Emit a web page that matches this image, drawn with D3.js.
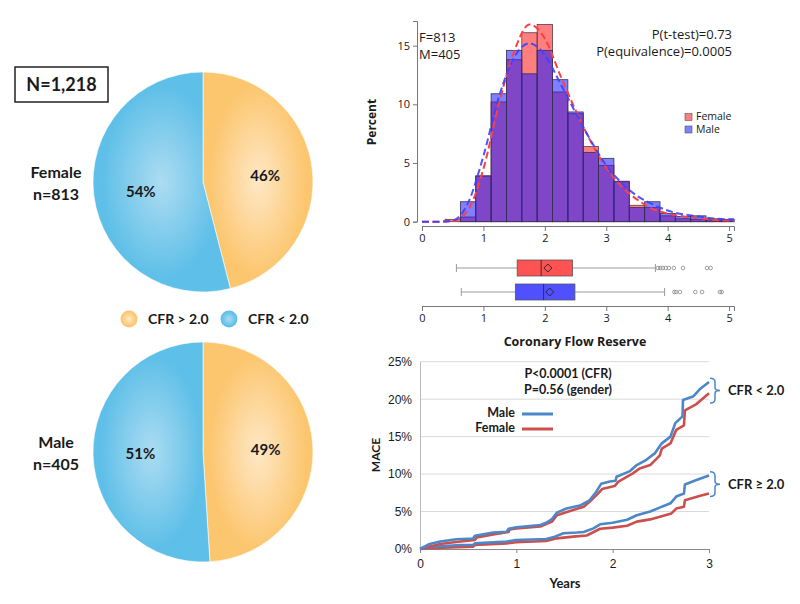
<!DOCTYPE html>
<html>
<head>
<meta charset="utf-8">
<script src="https://cdn.jsdelivr.net/npm/d3@7"></script>
<style>
  body { margin: 0; background: #fff; }
  svg text { fill: #1a1a1a; }
</style>
</head>
<body>
<div id="chart"></div>
<script>
// pie data
var pieGroups = ["Female", "Male"];
var pieCounts = ["n=813", "n=405"];
var pieHigh = [46, 49];   // CFR > 2.0
var pieLow = [54, 51];    // CFR < 2.0

// histogram data (percent per 0.25 bin)
var binCenters = [0.5, 0.75, 1.0, 1.25, 1.5, 1.75, 2.0, 2.25, 2.5, 2.75, 3.0, 3.25, 3.5, 3.75, 4.0, 4.25, 4.5, 4.75, 5.0];
var femalePct = [0.2, 0.4, 3.9, 10.2, 13.8, 16.1, 16.8, 11.05, 9.2, 6.4, 4.8, 3.4, 1.4, 1.2, 0.5, 0.25, 0.2, 0.25, 0.2];
var malePct   = [0.0, 1.7, 3.9, 10.9, 14.6, 12.6, 14.6, 12.1, 9.35, 5.9, 5.4, 3.45, 1.2, 1.7, 0.7, 0.45, 0.5, 0.15, 0.2];

// density curves
var densX = [0, 0.25, 0.5, 0.75, 1.0, 1.25, 1.5, 1.75, 2.0, 2.25, 2.5, 2.75, 3.0, 3.25, 3.5, 3.75, 4.0, 4.5, 5.0, 5.08];
var femaleDens = [0, 0, 0.05, 1.0, 4.5, 10.0, 14.5, 16.8, 15.6, 12.5, 9.5, 6.8, 4.6, 3.0, 1.9, 1.1, 0.7, 0.3, 0.1, 0.1];
var maleDens   = [0, 0, 0.1, 1.6, 5.6, 10.6, 14.0, 15.2, 14.2, 11.8, 9.3, 6.9, 4.8, 3.3, 2.2, 1.5, 0.95, 0.45, 0.2, 0.2];

// box plots: [whiskerLo, q1, median, q3, whiskerHi], mean, outliers
var boxNames = ["Female", "Male"];
var boxStats = [[0.56, 1.55, 1.94, 2.45, 3.80], [0.64, 1.52, 1.98, 2.49, 3.95]];
var boxMeans = [2.05, 2.08];
var boxOutliers = [[3.84, 3.88, 3.92, 3.97, 4.02, 4.10, 4.25, 4.64, 4.70], [4.11, 4.14, 4.20, 4.45, 4.56, 4.85, 4.88]];

// Kaplan-Meier MACE curves (years, %)
var maleLowT = [0, 0.1, 0.21, 0.38, 0.55, 0.57, 0.76, 0.9, 0.92, 1.0, 1.25, 1.31, 1.37, 1.42, 1.52, 1.66, 1.76, 1.83, 1.88, 1.97, 2.03, 2.04, 2.18, 2.25, 2.35, 2.44, 2.51, 2.6, 2.65, 2.725, 2.73, 2.84, 2.91, 3.0];
var maleLowY = [0, 0.67, 1.0, 1.3, 1.4, 1.75, 2.2, 2.3, 2.7, 2.9, 3.2, 3.5, 4.0, 4.85, 5.4, 5.8, 6.5, 7.65, 8.7, 9.0, 9.1, 9.65, 10.4, 11.2, 11.9, 12.8, 14.1, 15.0, 16.8, 17.7, 19.9, 20.4, 21.4, 22.3];
var femaleLowT = [0, 0.21, 0.42, 0.57, 0.59, 0.76, 0.92, 0.93, 1.0, 1.25, 1.37, 1.42, 1.59, 1.7, 1.76, 1.84, 1.89, 2.02, 2.06, 2.21, 2.28, 2.39, 2.49, 2.51, 2.6, 2.66, 2.74, 2.75, 2.87, 3.0];
var femaleLowY = [0, 0.67, 1.0, 1.2, 1.55, 1.95, 2.27, 2.6, 2.75, 3.0, 3.65, 4.5, 5.2, 5.65, 6.3, 7.3, 8.0, 8.4, 9.0, 10.1, 10.75, 11.2, 12.5, 13.4, 14.1, 15.9, 16.5, 18.5, 19.35, 20.8];
var maleHighT = [0, 0.14, 0.42, 0.55, 0.57, 0.9, 1.0, 1.31, 1.4, 1.49, 1.63, 1.7, 1.8, 1.87, 2.0, 2.15, 2.25, 2.39, 2.51, 2.6, 2.66, 2.74, 2.75, 2.87, 3.0];
var maleHighY = [0, 0.3, 0.53, 0.53, 0.75, 1.0, 1.2, 1.33, 1.65, 2.1, 2.2, 2.27, 2.75, 3.3, 3.5, 3.9, 4.5, 5.0, 5.65, 6.1, 7.0, 7.4, 8.6, 9.2, 9.8];
var femaleHighT = [0, 0.24, 0.55, 0.57, 0.9, 1.0, 1.31, 1.42, 1.59, 1.73, 1.87, 2.0, 2.15, 2.25, 2.39, 2.49, 2.61, 2.66, 2.74, 2.75, 2.91, 3.0];
var femaleHighY = [0, 0.18, 0.3, 0.53, 0.75, 0.9, 1.07, 1.42, 1.65, 1.8, 2.7, 2.85, 3.1, 3.65, 3.95, 4.3, 4.75, 5.4, 5.65, 6.5, 7.1, 7.4];

var histTicks = [0, 1, 2, 3, 4, 5];
var histYTicks = [0, 5, 10, 15];
var kmXTicks = [0, 1, 2, 3];
var kmYTicks = [0, 5, 10, 15, 20, 25];

var svg = d3.select("#chart").append("svg")
  .attr("width", 800).attr("height", 604)
  .style("font-family", "Lato, 'Open Sans', sans-serif");

var defs = svg.append("defs");

// ---------- pies ----------
var orange = { inner: "#fee8c6", outer: "#fcc66f" };
var blue = { inner: "#acdcf1", outer: "#5ebfe8" };
function radial(id, c) {
  var g = defs.append("radialGradient").attr("id", id)
    .attr("cx", "50%").attr("cy", "50%").attr("r", "50%");
  g.append("stop").attr("offset", "0%").attr("stop-color", c.inner);
  g.append("stop").attr("offset", "88%").attr("stop-color", c.outer);
  g.append("stop").attr("offset", "100%").attr("stop-color", c.outer);
}
radial("gradO", orange);
radial("gradB", blue);

var pieR = 110;
var pieCenters = [[203, 182], [203, 452]];
var pie = d3.pie().sort(null).value(function(d) { return d.v; });
var arc = d3.arc().innerRadius(0).outerRadius(pieR);

pieGroups.forEach(function(name, i) {
  var g = svg.append("g").attr("transform", "translate(" + pieCenters[i][0] + "," + pieCenters[i][1] + ")");
  var data = [{ v: pieHigh[i], fill: "url(#gradO)" }, { v: pieLow[i], fill: "url(#gradB)" }];
  var arcs = pie(data);
  g.selectAll("path.slice").data(arcs).enter().append("path")
    .attr("class", "slice")
    .attr("d", arc)
    .attr("fill", function(d) { return d.data.fill; })
    .attr("stroke", "#fff").attr("stroke-width", 0.6);
  var lab = d3.arc().innerRadius(pieR * 0.57).outerRadius(pieR * 0.57);
  g.selectAll("text.pct").data(arcs).enter().append("text")
    .attr("class", "pct")
    .attr("transform", function(d) {
      var c = lab.centroid(d);
      return "translate(" + c[0] + "," + (c[1] + (i === 0 ? 2 : 0)) + ")";
    })
    .attr("text-anchor", "middle").attr("dy", "0.35em")
    .style("font-size", "15px").style("font-weight", "bold")
    .text(function(d) { return d.data.v + "%"; });
  svg.append("text").attr("x", 56).attr("y", pieCenters[i][1] - 10)
    .attr("text-anchor", "middle").attr("dy", "0.35em")
    .style("font-size", "16px").style("font-weight", "bold").text(name);
  svg.append("text").attr("x", 56).attr("y", pieCenters[i][1] + 12)
    .attr("text-anchor", "middle").attr("dy", "0.35em")
    .style("font-size", "16px").style("font-weight", "bold").text(pieCounts[i]);
});

svg.append("rect").attr("x", 15).attr("y", 67).attr("width", 93).attr("height", 35)
  .attr("fill", "#fff").attr("stroke", "#222").attr("stroke-width", 1.5);
svg.append("text").attr("x", 61.5).attr("y", 85).attr("text-anchor", "middle").attr("dy", "0.35em")
  .style("font-size", "18px").style("font-weight", "bold").text("N=1,218");

// pie legend
var pieLegend = [{ x: 129, fill: "url(#gradO)", t: "CFR > 2.0" }, { x: 229, fill: "url(#gradB)", t: "CFR < 2.0" }];
pieLegend.forEach(function(d) {
  svg.append("circle").attr("cx", d.x).attr("cy", 319).attr("r", 8.5).attr("fill", d.fill);
  svg.append("text").attr("x", d.x + 19).attr("y", 319).attr("dy", "0.35em")
    .style("font-size", "14px").style("font-weight", "bold").text(d.t);
});

// ---------- histogram ----------
var hx = d3.scaleLinear().domain([0, 5.08]).range([422, 734]);
var hy = d3.scaleLinear().domain([0, 17.1]).range([221.7, 21]);
var binW = 0.25;
var redFill = "#ff1a1a", blueFill = "#1a1aff", barOp = 0.56;

var hist = svg.append("g");
hist.selectAll("rect.f").data(binCenters).enter().append("rect")
  .attr("x", function(d) { return hx(d - binW / 2); })
  .attr("width", function(d) { return hx(Math.min(d + binW / 2, 5.08)) - hx(d - binW / 2); })
  .attr("y", function(d, i) { return hy(femalePct[i]); })
  .attr("height", function(d, i) { return hy(0) - hy(femalePct[i]); })
  .attr("fill", redFill).attr("fill-opacity", barOp)
  .attr("stroke", "#5a3a4a").attr("stroke-width", 0.8);
hist.selectAll("rect.m").data(binCenters).enter().append("rect")
  .attr("x", function(d) { return hx(d - binW / 2); })
  .attr("width", function(d) { return hx(Math.min(d + binW / 2, 5.08)) - hx(d - binW / 2); })
  .attr("y", function(d, i) { return hy(malePct[i]); })
  .attr("height", function(d, i) { return hy(0) - hy(malePct[i]); })
  .attr("fill", blueFill).attr("fill-opacity", barOp)
  .attr("stroke", "#3a3050").attr("stroke-width", 0.8);

var dens = d3.line().x(function(d) { return hx(d[0]); }).y(function(d) { return hy(d[1]); }).curve(d3.curveMonotoneX);
hist.append("path").datum(d3.zip(densX, femaleDens)).attr("d", dens)
  .attr("fill", "none").attr("stroke", "#ff4040").attr("stroke-width", 2).attr("stroke-dasharray", "7,3.5");
hist.append("path").datum(d3.zip(densX, maleDens)).attr("d", dens)
  .attr("fill", "none").attr("stroke", "#4040ff").attr("stroke-width", 2).attr("stroke-dasharray", "7,3.5").attr("stroke-opacity", 0.9);

function styleAxis(g, size) {
  g.selectAll("path, line").attr("stroke", "#777");
  g.selectAll("text").style("font-size", size).style("fill", "#1a1a1a").style("font-family", "'Open Sans', sans-serif");
}
var hxAxis = svg.append("g").attr("transform", "translate(0,226)")
  .call(d3.axisBottom(hx).tickValues(histTicks).tickFormat(d3.format("d")).tickSizeOuter(0).tickSize(5));
styleAxis(hxAxis, "11px");
var hyAxis = svg.append("g").attr("transform", "translate(417,0)")
  .call(d3.axisLeft(hy).tickValues(histYTicks).tickSizeOuter(0).tickSize(4));
styleAxis(hyAxis, "11px");

svg.append("text").attr("transform", "translate(376,122) rotate(-90)").attr("text-anchor", "middle")
  .style("font-size", "12px").style("font-weight", "bold").style("font-family", "'Open Sans', sans-serif").text("Percent");
svg.append("text").attr("x", 419).attr("y", 42).style("font-size", "13px").style("font-family", "'Open Sans', sans-serif").text("F=813");
svg.append("text").attr("x", 419).attr("y", 59).style("font-size", "13px").style("font-family", "'Open Sans', sans-serif").text("M=405");
svg.append("text").attr("x", 732).attr("y", 39).attr("text-anchor", "end").style("font-size", "13px").style("font-family", "'Open Sans', sans-serif").text("P(t-test)=0.73");
svg.append("text").attr("x", 732).attr("y", 56).attr("text-anchor", "end").style("font-size", "13px").style("font-family", "'Open Sans', sans-serif").text("P(equivalence)=0.0005");

[["Female", redFill, 117], ["Male", blueFill, 129.5]].forEach(function(d) {
  svg.append("rect").attr("x", 685).attr("y", d[2] - 3.5).attr("width", 7).attr("height", 7)
    .attr("fill", d[1]).attr("fill-opacity", barOp).attr("stroke", "#555").attr("stroke-width", 0.6);
  svg.append("text").attr("x", 696).attr("y", d[2]).attr("dy", "0.33em")
    .style("font-size", "10.5px").style("font-family", "'Open Sans', sans-serif").text(d[0]);
});

// ---------- box plots ----------
var boxY = [268, 292];
var boxH = 16;
var boxFill = ["#ff5252", "#5050ff"];
boxNames.forEach(function(name, i) {
  var s = boxStats[i], y = boxY[i];
  var g = svg.append("g");
  g.append("line").attr("x1", hx(s[0])).attr("x2", hx(s[1])).attr("y1", y).attr("y2", y).attr("stroke", "#999");
  g.append("line").attr("x1", hx(s[3])).attr("x2", hx(s[4])).attr("y1", y).attr("y2", y).attr("stroke", "#999");
  g.append("line").attr("x1", hx(s[0])).attr("x2", hx(s[0])).attr("y1", y - 4).attr("y2", y + 4).attr("stroke", "#999");
  g.append("line").attr("x1", hx(s[4])).attr("x2", hx(s[4])).attr("y1", y - 4).attr("y2", y + 4).attr("stroke", "#999");
  g.append("rect").attr("x", hx(s[1])).attr("y", y - boxH / 2).attr("width", hx(s[3]) - hx(s[1])).attr("height", boxH)
    .attr("fill", boxFill[i]).attr("stroke", "#555").attr("stroke-width", 0.8);
  g.append("line").attr("x1", hx(s[2])).attr("x2", hx(s[2])).attr("y1", y - boxH / 2).attr("y2", y + boxH / 2)
    .attr("stroke", "#333").attr("stroke-width", 1);
  var mx = hx(boxMeans[i]);
  g.append("path").attr("d", "M" + mx + "," + (y - 4) + "L" + (mx + 4) + "," + y + "L" + mx + "," + (y + 4) + "L" + (mx - 4) + "," + y + "Z")
    .attr("fill", "none").attr("stroke", "#222").attr("stroke-width", 0.9);
  g.selectAll("circle").data(boxOutliers[i]).enter().append("circle")
    .attr("cx", function(d) { return hx(d); }).attr("cy", y).attr("r", 1.8)
    .attr("fill", "none").attr("stroke", "#888").attr("stroke-width", 0.8);
});
var bxAxis = svg.append("g").attr("transform", "translate(0,306)")
  .call(d3.axisBottom(hx).tickValues(histTicks).tickFormat(d3.format("d")).tickSizeOuter(0).tickSize(5));
styleAxis(bxAxis, "11px");
svg.append("text").attr("x", 575).attr("y", 342).attr("text-anchor", "middle").attr("dy", "0.35em")
  .style("font-size", "12.5px").style("font-weight", "bold").style("font-family", "'Open Sans', sans-serif").text("Coronary Flow Reserve");

// ---------- Kaplan-Meier ----------
var kx = d3.scaleLinear().domain([0, 3]).range([420, 709]);
var ky = d3.scaleLinear().domain([0, 25]).range([549, 361.7]);

svg.append("g").selectAll("line").data(kmYTicks.slice(1)).enter().append("line")
  .attr("x1", kx(0)).attr("x2", kx(3))
  .attr("y1", function(d) { return ky(d); }).attr("y2", function(d) { return ky(d); })
  .attr("stroke", "#d9d9d9").attr("stroke-width", 1);
var kyAxis = svg.append("g").attr("transform", "translate(420,0)")
  .call(d3.axisLeft(ky).tickValues(kmYTicks).tickFormat(function(d) { return d + "%"; }).tickSize(0).tickPadding(8));
kyAxis.selectAll("path").attr("stroke", "#bbb");
kyAxis.selectAll("text").style("font-size", "12px").style("fill", "#1a1a1a");
var kxAxis = svg.append("g").attr("transform", "translate(0,549)")
  .call(d3.axisBottom(kx).tickValues(kmXTicks).tickFormat(d3.format("d")).tickSizeOuter(0).tickSize(4).tickPadding(6));
kxAxis.selectAll("path, line").attr("stroke", "#888");
kxAxis.selectAll("text").style("font-size", "12px").style("fill", "#1a1a1a");

var kmLine = d3.line().x(function(d) { return kx(d[0]); }).y(function(d) { return ky(d[1]); });
var kmBlue = "#4b87c9", kmRed = "#cc4f4c";
[[femaleHighT, femaleHighY, kmRed], [maleHighT, maleHighY, kmBlue], [femaleLowT, femaleLowY, kmRed], [maleLowT, maleLowY, kmBlue]].forEach(function(c) {
  svg.append("path").datum(d3.zip(c[0], c[1])).attr("d", kmLine)
    .attr("fill", "none").attr("stroke", c[2]).attr("stroke-width", 2.6).attr("stroke-linejoin", "round");
});

svg.append("text").attr("transform", "translate(380,455) rotate(-90)").attr("text-anchor", "middle")
  .style("font-size", "12px").style("font-weight", "bold").text("MACE");
svg.append("text").attr("x", 565).attr("y", 583).attr("text-anchor", "middle").attr("dy", "0.35em")
  .style("font-size", "13px").style("font-weight", "bold").text("Years");
svg.append("text").attr("x", 568).attr("y", 374).attr("text-anchor", "middle").attr("dy", "0.35em")
  .style("font-size", "12.5px").style("font-weight", "bold").text("P<0.0001 (CFR)");
svg.append("text").attr("x", 568).attr("y", 390).attr("text-anchor", "middle").attr("dy", "0.35em")
  .style("font-size", "12.5px").style("font-weight", "bold").text("P=0.56 (gender)");

[["Male", kmBlue, 413], ["Female", kmRed, 428]].forEach(function(d) {
  svg.append("text").attr("x", 515).attr("y", d[2]).attr("text-anchor", "end").attr("dy", "0.33em")
    .style("font-size", "12.5px").style("font-weight", "bold").text(d[0]);
  svg.append("line").attr("x1", 522).attr("x2", 553).attr("y1", d[2] + 1).attr("y2", d[2] + 1)
    .attr("stroke", d[1]).attr("stroke-width", 3);
});

function brace(y0, y1, label) {
  var x0 = 710, x1 = 715, xm = 720, ym = (y0 + y1) / 2;
  var p = "M" + x0 + "," + y0 + "Q" + x1 + "," + y0 + " " + x1 + "," + (y0 + 4) +
    "L" + x1 + "," + (ym - 3) + "Q" + x1 + "," + ym + " " + xm + "," + ym +
    "Q" + x1 + "," + ym + " " + x1 + "," + (ym + 3) +
    "L" + x1 + "," + (y1 - 4) + "Q" + x1 + "," + y1 + " " + x0 + "," + y1;
  svg.append("path").attr("d", p).attr("fill", "none").attr("stroke", kmBlue).attr("stroke-width", 1.5);
  svg.append("text").attr("x", 728).attr("y", ym).attr("dy", "0.35em")
    .style("font-size", "13px").style("font-weight", "bold").text(label);
}
brace(ky(22.8), ky(19.5), "CFR < 2.0");
brace(ky(10.3), ky(7.0), "CFR \u2265 2.0");
</script>
</body>
</html>
